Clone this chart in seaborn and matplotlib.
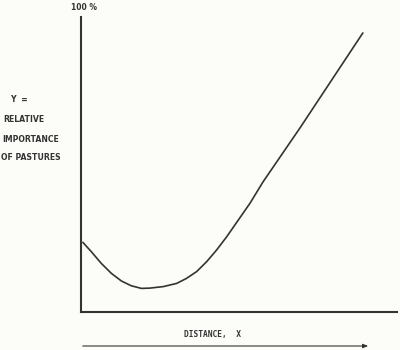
import matplotlib
matplotlib.use("Agg")
import matplotlib.pyplot as plt
import seaborn as sns
import pandas as pd

# Data (x: distance 0-100, y: relative importance 0-100 %)
distance = [0.6, 3.3, 6.4, 9.6, 12.8, 15.9, 19.1, 21.8, 26.0, 30.3, 33.4, 36.6,
            39.8, 42.9, 46.1, 49.8, 53.5, 57.6, 69.3, 89.2]
importance = [23.6, 20.4, 16.5, 13.1, 10.5, 8.9, 8.0, 8.1, 8.6, 9.7, 11.4, 13.7,
              17.1, 21.0, 25.5, 31.2, 36.9, 44.1, 62.4, 94.6]

y_label_lines = ["Y  =", "RELATIVE", "IMPORTANCE", "OF PASTURES"]
x_label = "DISTANCE,  X"
top_label = "100 %"

sns.set_theme(style="white")
plt.rcParams['font.family'] = ['DejaVu Sans']

bg = "#fcfcf8"
ink = "#333333"

fig = plt.figure(figsize=(4, 3.5), dpi=100, facecolor=bg)
ax = fig.add_axes([81/400, 1-312/350, 316/400, 295/350], facecolor=bg)

df = pd.DataFrame({"distance": distance, "importance": importance})
sns.lineplot(data=df, x="distance", y="importance", ax=ax, color=ink,
             linewidth=1.2, solid_joinstyle="round", solid_capstyle="round")

ax.set_xlim(0, 100)
ax.set_ylim(0, 100)
ax.set_xticks([])
ax.set_yticks([])
ax.set_xlabel("")
ax.set_ylabel("")
for s in ["top", "right"]:
    ax.spines[s].set_visible(False)
for s in ["left", "bottom"]:
    ax.spines[s].set_color(ink)
    ax.spines[s].set_linewidth(1.5)

def fx(px):
    return px / 400
def fy(py):
    return 1 - py / 350

fig.text(fx(84), fy(8), top_label, ha="center", va="center", fontsize=5.5,
         fontweight="bold", color=ink)
ypos = [100, 120, 140, 158]
xpos = [10, 3, 2, 1]
for t, xx, yy in zip(y_label_lines, xpos, ypos):
    fig.text(fx(xx), fy(yy), t, ha="left", va="center", fontsize=5.6,
             fontweight="bold", color=ink)

fig.text(fx(212), fy(334), x_label, ha="center", va="center", fontsize=5.7,
         fontweight="bold", color=ink, family="DejaVu Sans Mono")

fig.patches.append(matplotlib.patches.FancyArrowPatch(
    (fx(80), fy(346)), (fx(371), fy(346)), transform=fig.transFigure,
    arrowstyle="-|>,head_length=3,head_width=1.2", color=ink, linewidth=0.8))

fig.savefig("out.png", dpi=100, facecolor=bg)
